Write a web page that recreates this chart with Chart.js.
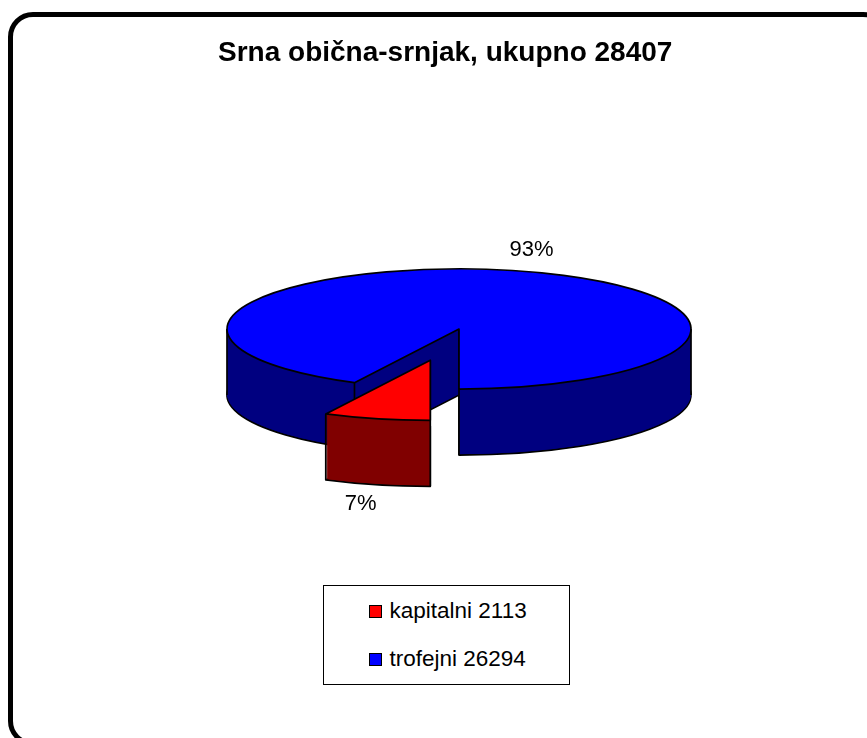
<!DOCTYPE html>
<html>
<head>
<meta charset="utf-8">
<script src="https://cdn.jsdelivr.net/npm/chart.js@4.4.1/dist/chart.umd.min.js"></script>
<style>
  body { margin: 0; background: #fff; overflow: hidden; }
  #wrap { position: relative; width: 867px; height: 738px; overflow: hidden; }
  #frame {
    position: absolute; left: 8px; top: 12px; width: 880px; height: 734px;
    box-sizing: border-box; border: 5px solid #000; border-radius: 25px;
  }
  #chart { position: absolute; left: 0; top: 0; }
  #legend {
    position: absolute; left: 323px; top: 585px; width: 247px; height: 100px;
    box-sizing: border-box; border: 1.5px solid #000; background: #fff;
    font-family: "Liberation Sans", Arial, sans-serif; font-size: 22.5px; color: #000;
  }
  #legend .box {
    position: absolute; left: 44.5px; width: 13px; height: 13px;
    box-sizing: border-box; border: 1px solid #000;
  }
  #legend .txt { position: absolute; left: 65.5px; line-height: 22px; white-space: nowrap; }
</style>
</head>
<body>
<div id="wrap">
  <div id="frame"></div>
  <canvas id="chart" width="867" height="738"></canvas>
  <div id="legend"></div>
</div>
<script>
// data
var categories = ["kapitalni", "trofejni"];
var values = [2113, 26294];
var titleText = "Srna obična-srnjak, ukupno";

// styling
var topColors = ["#ff0000", "#0000ff"];
var sideColors = ["#800000", "#000080"];
var explode = [124, 0];   // how far each slice is pulled out
var tilt = 0.259;          // vertical squash of the pie
var depth = 66;            // height of the pie side in px

var total = values.reduce(function (a, b) { return a + b; }, 0);
var labels = categories.map(function (c, i) { return c + " " + values[i]; });

function sliceTransform(ctx, arc, i, shift) {
    var mid = (arc.startAngle + arc.endAngle) / 2;
    ctx.translate(arc.x, arc.y);
    ctx.scale(1, tilt);
    ctx.translate(Math.cos(mid) * explode[i], Math.sin(mid) * explode[i] + shift / tilt);
    ctx.translate(-arc.x, -arc.y);
}

function fillSlice(ctx, arc, i, color, shift) {
    ctx.save();
    sliceTransform(ctx, arc, i, shift);
    var saved = arc.options;
    arc.options = Object.assign({}, saved, { backgroundColor: color, borderWidth: 0 });
    arc.draw(ctx);
    arc.options = saved;
    ctx.restore();
}

function strokeOutline(ctx, arc, i, shift) {
    ctx.save();
    sliceTransform(ctx, arc, i, shift);
    ctx.beginPath();
    ctx.moveTo(arc.x, arc.y);
    ctx.arc(arc.x, arc.y, arc.outerRadius, arc.startAngle, arc.endAngle);
    ctx.closePath();
    ctx.restore();
    ctx.lineWidth = 1.7;
    ctx.lineJoin = "round";
    ctx.strokeStyle = "#000";
    ctx.stroke();
}

function strokeEdges(ctx, arc, i) {
    var r = arc.outerRadius;
    var pts = [[arc.x, arc.y]];
    [arc.startAngle, arc.endAngle].forEach(function (a) {
        pts.push([arc.x + Math.cos(a) * r, arc.y + Math.sin(a) * r]);
    });
    for (var k = 0; k <= 4; k++) {
        var a = k * Math.PI;
        if (a > arc.startAngle && a < arc.endAngle) {
            pts.push([arc.x + Math.cos(a) * r, arc.y + Math.sin(a) * r]);
        }
    }
    ctx.save();
    sliceTransform(ctx, arc, i, 0);
    ctx.beginPath();
    pts.forEach(function (p) {
        ctx.moveTo(p[0], p[1]);
        ctx.lineTo(p[0], p[1] + depth / tilt);
    });
    ctx.restore();
    ctx.lineWidth = 1.7;
    ctx.strokeStyle = "#000";
    ctx.stroke();
}

// draws the pie as a tilted 3d disc
var pie3d = {
    id: "pie3d",
    beforeDatasetsDraw: function (chart) {
        var ctx = chart.ctx;
        var arcs = chart.getDatasetMeta(0).data;
        var order = arcs.map(function (a, i) { return i; });
        order.sort(function (a, b) {
            var ma = (arcs[a].startAngle + arcs[a].endAngle) / 2;
            var mb = (arcs[b].startAngle + arcs[b].endAngle) / 2;
            return Math.sin(ma) - Math.sin(mb);
        });
        order.forEach(function (i) {
            var arc = arcs[i];
            fillSlice(ctx, arc, i, sideColors[i], depth);
            strokeOutline(ctx, arc, i, depth);
            for (var d = depth - 1; d > 0; d--) {
                fillSlice(ctx, arc, i, sideColors[i], d);
            }
            strokeEdges(ctx, arc, i);
            fillSlice(ctx, arc, i, topColors[i], 0);
            strokeOutline(ctx, arc, i, 0);
        });
        return false;
    },
    afterDraw: function (chart) {
        var ctx = chart.ctx;
        var arcs = chart.getDatasetMeta(0).data;
        ctx.save();
        ctx.font = "22px 'Liberation Sans', Arial, sans-serif";
        ctx.fillStyle = "#000";
        ctx.textAlign = "center";
        ctx.textBaseline = "middle";
        arcs.forEach(function (arc, i) {
            var mid = (arc.startAngle + arc.endAngle) / 2;
            var R = arc.outerRadius * 1.35 + explode[i] * 0.9;
            var x = arc.x + Math.cos(mid) * R;
            var y = arc.y + Math.sin(mid) * R * tilt + (Math.sin(mid) > 0 ? depth + 2 : 0);
            ctx.fillText(Math.round(values[i] / total * 100) + "%", x, y);
        });
        ctx.restore();
    }
};

var ctx = document.getElementById("chart").getContext("2d");
var chart = new Chart(ctx, {
    type: "pie",
    data: {
        labels: labels,
        datasets: [
            {
                data: values,
                backgroundColor: topColors,
                borderWidth: 0,
                radius: 232,
            },
        ],
    },
    options: {
        responsive: false,
        devicePixelRatio: 1,
        animation: false,
        events: [],
        rotation: 180,
        layout: {
            padding: { left: 218, right: 167, top: 26, bottom: 159.6 },
        },
        plugins: {
            legend: { display: false },
            tooltip: { enabled: false },
            title: {
                display: true,
                text: titleText + " " + total,
                align: "start",
                color: "#000",
                font: { family: "'Liberation Sans', Arial, sans-serif", size: 28, weight: "bold", lineHeight: 1.2 },
                padding: { top: 10, bottom: 10 },
            },
        },
    },
    plugins: [pie3d],
});

// html legend built from the chart's labels
var legend = document.getElementById("legend");
var rowTops = [18.5, 66.5];
chart.data.labels.forEach(function (text, i) {
    var box = document.createElement("div");
    box.className = "box";
    box.style.top = rowTops[i] + "px";
    box.style.background = chart.data.datasets[0].backgroundColor[i];
    var txt = document.createElement("div");
    txt.className = "txt";
    txt.style.top = (rowTops[i] - 4.5) + "px";
    txt.textContent = text;
    legend.appendChild(box);
    legend.appendChild(txt);
});
</script>
</body>
</html>
